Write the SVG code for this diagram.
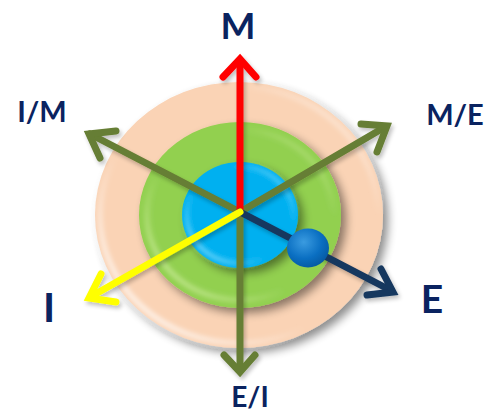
<svg xmlns="http://www.w3.org/2000/svg" width="484" height="413" viewBox="0 0 484 413">
<style>
.lbl{font-family:Lato,"Liberation Sans",sans-serif;font-weight:bold;fill:#0A2360;text-anchor:middle}
.shaft{fill:none;stroke-width:7;stroke-linecap:round;stroke-linejoin:miter}
.olive{stroke:#667E34}
.rim{fill:none;filter:url(#soft)}
</style>
<defs>
<filter id="sh" x="-20%" y="-20%" width="150%" height="150%">
<feGaussianBlur in="SourceAlpha" stdDeviation="5"/>
<feOffset dx="5" dy="5" result="b"/>
<feComponentTransfer><feFuncA type="linear" slope="0.45"/></feComponentTransfer>
<feMerge><feMergeNode/><feMergeNode in="SourceGraphic"/></feMerge>
</filter>
<filter id="soft" x="-10%" y="-10%" width="120%" height="120%">
<feGaussianBlur stdDeviation="2"/>
</filter>
<filter id="ash" x="-20%" y="-20%" width="150%" height="150%">
<feGaussianBlur in="SourceAlpha" stdDeviation="2"/>
<feOffset dx="2" dy="3" result="b"/>
<feComponentTransfer><feFuncA type="linear" slope="0.25"/></feComponentTransfer>
<feMerge><feMergeNode/><feMergeNode in="SourceGraphic"/></feMerge>
</filter>
<linearGradient id="rimP" x1="0" y1="1" x2="1" y2="0">
<stop offset="0" stop-color="#fff" stop-opacity="0.9"/>
<stop offset="0.4" stop-color="#fff" stop-opacity="0"/>
<stop offset="0.75" stop-color="#fff" stop-opacity="0"/>
<stop offset="1" stop-color="#fff" stop-opacity="0.7"/>
</linearGradient>
<linearGradient id="rimG" x1="0" y1="1" x2="1" y2="0">
<stop offset="0" stop-color="#d6f0a8" stop-opacity="0.8"/>
<stop offset="0.4" stop-color="#d6f0a8" stop-opacity="0"/>
<stop offset="0.75" stop-color="#d6f0a8" stop-opacity="0"/>
<stop offset="1" stop-color="#d6f0a8" stop-opacity="0.6"/>
</linearGradient>
<linearGradient id="rimB" x1="0" y1="1" x2="1" y2="0">
<stop offset="0" stop-color="#a8e8ff" stop-opacity="0.8"/>
<stop offset="0.4" stop-color="#a8e8ff" stop-opacity="0"/>
<stop offset="0.7" stop-color="#a8e8ff" stop-opacity="0"/>
<stop offset="1" stop-color="#a8e8ff" stop-opacity="0.7"/>
</linearGradient>
<radialGradient id="ball" cx="0.4" cy="0.35" r="0.7">
<stop offset="0" stop-color="#3a9be0"/>
<stop offset="0.6" stop-color="#0a6fc2"/>
<stop offset="1" stop-color="#0558a0"/>
</radialGradient>
</defs>
<g id="rings">
<g id="outer-ring" filter="url(#sh)">
<ellipse cx="239" cy="215" rx="144" ry="133" fill="#FAD3B5"/>
<ellipse class="rim" cx="239" cy="215" rx="139" ry="128" stroke="url(#rimP)" stroke-width="6"/>
</g>
<g id="middle-ring" filter="url(#sh)">
<ellipse cx="240" cy="215" rx="101" ry="93" fill="#92D050"/>
<ellipse class="rim" cx="240" cy="215" rx="93" ry="85" stroke="url(#rimG)" stroke-width="6"/>
</g>
<g id="inner-ring" filter="url(#sh)">
<ellipse cx="240" cy="215" rx="58" ry="53" fill="#00B0F0"/>
<ellipse class="rim" cx="240" cy="215" rx="53" ry="48" stroke="url(#rimB)" stroke-width="5"/>
</g>
</g>
<g id="connectors" filter="url(#ash)">
<g id="arrow-IM" class="shaft olive"><path d="M240,212 L90,134"/><path d="M100,158 L89,134 L116,131"/></g>
<g id="arrow-ME" class="shaft olive"><path d="M240,212 L385,127"/><path d="M361,124 L387,126 L377,152"/></g>
<g id="arrow-EI" class="shaft olive"><path d="M240,212 L240,370"/><path d="M224,355 L240,372 L255,355"/></g>
<g id="arrow-M" class="shaft" stroke="#FF0000"><path d="M240,212 L240,60"/><path d="M223,77 L240,59 L256,77"/></g>
<g id="arrow-E" class="shaft" stroke="#17375E"><path d="M240,212 L390,290"/><path d="M381,269 L393,292 L367,295"/></g>
<g id="arrow-I" class="shaft" stroke="#FFFF00"><path d="M240,212 L92,296"/><path d="M101,274 L89,298 L116,302"/></g>
</g>
<g id="ball-node"><ellipse cx="308" cy="248" rx="21" ry="19.5" fill="url(#ball)"/></g>
<g id="label-M"><text class="lbl" x="238" y="39" font-size="37">M</text></g>
<g id="label-IM"><text class="lbl" x="42" y="122" font-size="29">I/M</text></g>
<g id="label-ME"><text class="lbl" x="455" y="125" font-size="29">M/E</text></g>
<g id="label-I"><text class="lbl" x="49" y="322" font-size="41">I</text></g>
<g id="label-E"><text class="lbl" x="432" y="313" font-size="39">E</text></g>
<g id="label-EI"><text class="lbl" x="250" y="407" font-size="28">E/I</text></g>
</svg>
